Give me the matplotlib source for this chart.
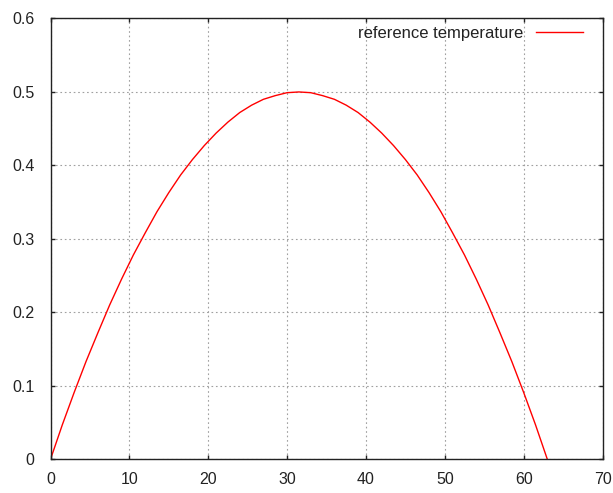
import matplotlib
matplotlib.use("Agg")
import matplotlib.pyplot as plt

plt.rcParams["font.family"] = ["Liberation Sans", "DejaVu Sans"]

# reference temperature profile, sampled every 1.5 units
x_vals = [0, 1.5, 3, 4.5, 6, 7.5, 9, 10.5, 12, 13.5, 15, 16.5, 18, 19.5, 21,
          22.5, 24, 25.5, 27, 28.5, 30, 31.5, 33, 34.5, 36, 37.5, 39, 40.5,
          42, 43.5, 45, 46.5, 48, 49.5, 51, 52.5, 54, 55.5, 57, 58.5, 60, 61.5, 63]
temp_vals = [0.0, 0.047, 0.091, 0.133, 0.172, 0.210, 0.245, 0.278, 0.308, 0.337,
             0.363, 0.387, 0.408, 0.427, 0.444, 0.459, 0.472, 0.482, 0.490, 0.495,
             0.499, 0.500, 0.499, 0.495, 0.490, 0.482, 0.472, 0.459, 0.444, 0.427,
             0.408, 0.387, 0.363, 0.337, 0.308, 0.278, 0.245, 0.210, 0.172, 0.133,
             0.091, 0.047, 0.0]

x_ticks = [0, 10, 20, 30, 40, 50, 60, 70]
y_ticks = [0, 0.1, 0.2, 0.3, 0.4, 0.5, 0.6]
y_tick_labels = ["0", "0.1", "0.2", "0.3", "0.4", "0.5", "0.6"]

fig = plt.figure(figsize=(6.13, 4.93), dpi=100)
ax = fig.add_axes([0.0824, 0.0684, 0.9005, 0.8941])

ax.plot(x_vals, temp_vals, color="#ff0000", linewidth=1.0, label="reference temperature")

ax.set_xlim(0, 70)
ax.set_ylim(0, 0.6)
ax.set_xticks(x_ticks)
ax.set_yticks(y_ticks)
ax.set_yticklabels(y_tick_labels)

ax.grid(True, color="#a0a0a0", linestyle=(0, (1.5, 2.5)), linewidth=0.8)
ax.tick_params(direction="in", length=3, width=1, top=True, right=True,
               labelsize=11.5, colors="#222222")
ax.tick_params(axis="x", pad=9)
ax.tick_params(axis="y", pad=11.5)
for s in ax.spines.values():
    s.set_linewidth(1.0)
    s.set_color("#222222")

ax.legend(loc="upper right", bbox_to_anchor=(0.9638, 0.984), frameon=False,
          markerfirst=False, fontsize=12, handlelength=2.8, handletextpad=0.76,
          borderpad=0, borderaxespad=0, labelcolor="#222222")

fig.savefig("out.png", dpi=100)
